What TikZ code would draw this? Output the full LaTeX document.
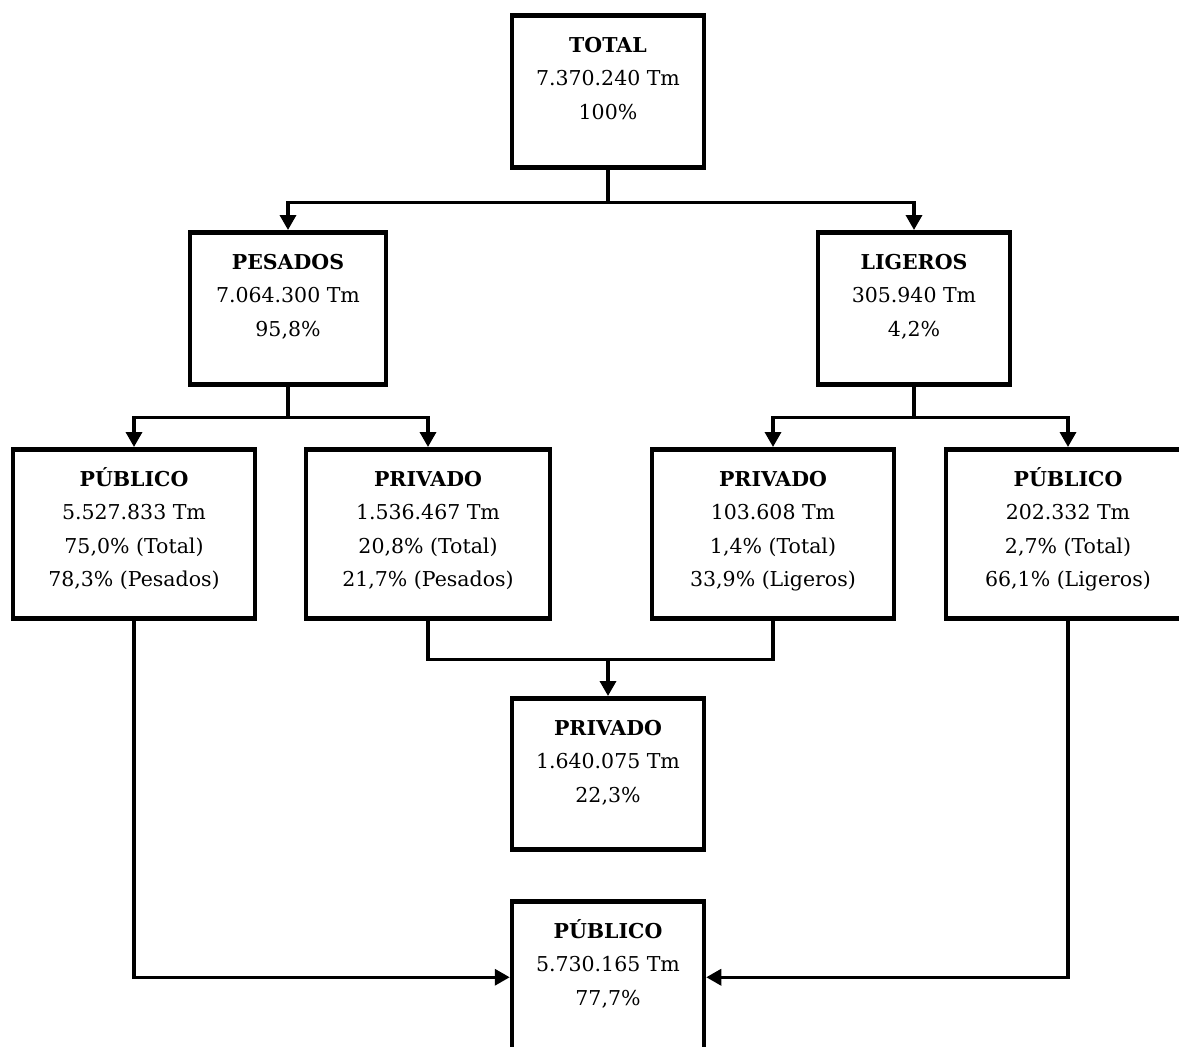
\documentclass[tikz,border=0pt]{standalone}
\usepackage{fontspec}
\setmainfont{DejaVu Serif}
\usetikzlibrary{arrows.meta}

\begin{document}
\begin{tikzpicture}[x=1pt, y=-1pt,
  caja/.style={draw, line width=4.5pt, minimum width=#1, minimum height=152, inner sep=0pt, anchor=north},
  caja/.default=192,
  texto/.style={align=center, anchor=north, inner sep=0pt, font=\fontsize{20.5}{33.5}\selectfont},
  linea/.style={line width=3.4pt},
  flecha/.style={linea, -{Triangle[width=16pt,length=15pt]}}]
  \useasboundingbox (0,0) rectangle (1179,1047);

  % nivel 1
  \node[caja] (total) at (608,13) {};
  \node[texto] (total-t) at ([yshift=-15.4pt]total.north) {\strut\textbf{TOTAL}\\7.370.240 Tm\\100\%};

  % nivel 2
  \node[caja=196] (pes) at (288,230) {};
  \node[texto] (pes-t) at ([yshift=-15.4pt]pes.north) {\strut\textbf{PESADOS}\\7.064.300 Tm\\95,8\%};
  \node[caja] (lig) at (914,230) {};
  \node[texto] (lig-t) at ([yshift=-15.4pt]lig.north) {\strut\textbf{LIGEROS}\\305.940 Tm\\4,2\%};

  % nivel 3
  \node[caja=242, minimum height=169] (pubpes) at (134,447) {};
  \node[texto] (pubpes-t) at ([yshift=-15.4pt]pubpes.north) {\strut\textbf{PÚBLICO}\\5.527.833 Tm\\75,0\% (Total)\\78,3\% (Pesados)};
  \node[caja=244, minimum height=169] (privpes) at (428,447) {};
  \node[texto] (privpes-t) at ([yshift=-15.4pt]privpes.north) {\strut\textbf{PRIVADO}\\1.536.467 Tm\\20,8\% (Total)\\21,7\% (Pesados)};
  \node[caja=242, minimum height=169] (privlig) at (773,447) {};
  \node[texto] (privlig-t) at ([yshift=-15.4pt]privlig.north) {\strut\textbf{PRIVADO}\\103.608 Tm\\1,4\% (Total)\\33,9\% (Ligeros)};
  \node[caja=244, minimum height=169] (publig) at (1068,447) {};
  \node[texto] (publig-t) at ([yshift=-15.4pt]publig.north) {\strut\textbf{PÚBLICO}\\202.332 Tm\\2,7\% (Total)\\66,1\% (Ligeros)};

  % totales por sector
  \node[caja, minimum height=151] (privtot) at (608,696) {};
  \node[texto] (privtot-t) at ([yshift=-15.4pt]privtot.north) {\strut\textbf{PRIVADO}\\1.640.075 Tm\\22,3\%};
  \node[caja] (pubtot) at (608,899) {};
  \node[texto] (pubtot-t) at ([yshift=-15.4pt]pubtot.north) {\strut\textbf{PÚBLICO}\\5.730.165 Tm\\77,7\%};

  % conectores
  \draw[linea] (total.south) -- ++(0,33) coordinate (tj);
  \draw[flecha] (tj) -| (pes.north);
  \draw[flecha] (tj) -| (lig.north);
  \draw[linea] (pes.south) -- ++(0,31) coordinate (pj);
  \draw[flecha] (pj) -| (pubpes.north);
  \draw[flecha] (pj) -| (privpes.north);
  \draw[linea] (lig.south) -- ++(0,31) coordinate (lj);
  \draw[flecha] (lj) -| (privlig.north);
  \draw[flecha] (lj) -| (publig.north);
  \draw[linea] (privpes.south) -- ++(0,39) coordinate (vj) -| (privlig.south);
  \draw[flecha] (vj -| privtot.north) -- (privtot.north);
  \draw[flecha] (pubpes.south) |- (pubtot.west);
  \draw[flecha] (publig.south) |- (pubtot.east);
\end{tikzpicture}
\end{document}
